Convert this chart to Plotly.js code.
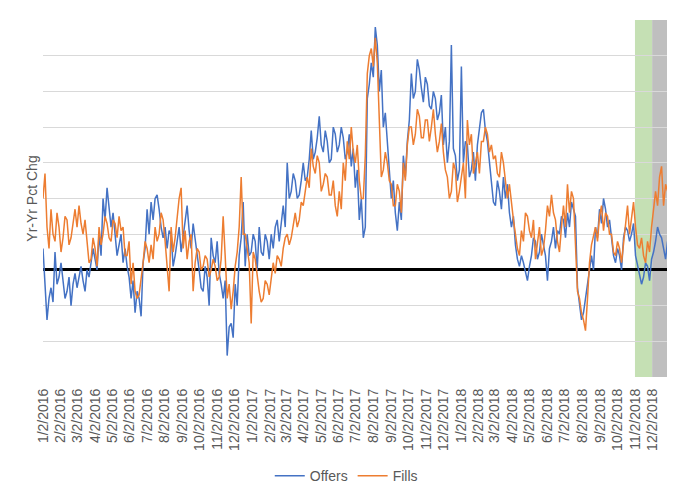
<!DOCTYPE html>
<html>
<head>
<meta charset="utf-8">
<script src="https://cdn.plot.ly/plotly-3.0.1.min.js"></script>
<style>html,body{margin:0;padding:0;background:#fff;}#chart{width:680px;height:502px;}</style>
</head>
<body>
<div id="chart"></div>
<script>
// Half-weekly readings (percent, yr-yr change), starting 2016-01-02, every 3.5 days
const startDate = "2016-01-02";
const stepHours = 84;
const offers = [
  6, -3, -14, -8, -5, -9, 5, -4, -2, 2, -4, -8, -6, -2, -10, -4, -1, -5, -2, 1,
  -3, -6, 0, -2, 2, 6, 3, 0, 10, 4, 20, 14, 23, 17, 12, 16, 10, 4, 7, 10,
  2, 6, 1, -2, -8, -3, -12, -6, -8, -13, 2, 6, 17, 10, 19, 14, 20, 21, 17, 12,
  9, 12, 6, 11, 10, 1, 4, 8, 12, 5, 9, 14, 18, 11, 6, 13, 9, 4, 0, -5,
  -6, 1, -2, -10, 9, 4, 2, 8, -1, -4, -8, -3, -24, -16, -15, -19, -4, -10, 4, 9,
  19, 1, 10, 4, 5, 10, 8, 0, 12, 5, 4, 10, 8, 3, 10, 6, 12, 14, 8, 13,
  18, 12, 30, 20, 22, 27, 25, 20, 21, 25, 30, 25, 26, 31, 39, 31, 33, 37, 43, 35,
  33, 39, 36, 30, 31, 40, 38, 33, 35, 40, 37, 31, 33, 38, 29, 34, 23, 28, 14, 20,
  9, 12, 48, 52, 58, 54, 68, 63, 50, 56, 40, 44, 35, 29, 20, 25, 16, 11, 19, 14,
  32, 26, 36, 42, 55, 48, 50, 59, 56, 51, 47, 54, 52, 46, 45, 50, 48, 42, 44, 49,
  35, 40, 30, 36, 63, 34, 32, 25, 28, 57, 30, 36, 35, 26, 28, 33, 25, 35, 40, 44,
  45, 39, 36, 30, 24, 19, 18, 25, 22, 17, 26, 20, 24, 16, 12, 15, 7, 3, 1, 4,
  2, -1, -3, 1, 4, 9, 8, 3, 5, 10, 7, 4, -3, 6, 8, 12, 6, 11, 10, 15,
  14, 9, 16, 12, 19, 17, 15, -5, -10, -14, -12, -8, -3, 1, 4, 0, 12, 9, 17, 13,
  20, 17, 12, 14, 8, 4, 2, 6, 4, 0, 9, 12, 11, 8, 10, 13, 4, 1, -1, -4,
  -2, 2, 1, -3, 3, 5, 8, 12, 10, 9, 6, 3, 8
];
const fills = [
  20, 27, 12, 6, 17, 10, 8, 16, 12, 5, 9, 15, 14, 7, 9, 13, 17, 12, 18, 13,
  10, 14, 8, 2, 3, 9, 6, 1, 12, 7, 10, 15, 13, 9, 8, 14, 13, 9, 15, 11,
  12, 4, 4, 8, -4, 2, -6, -8, -7, -3, 2, 8, 6, 2, 7, 3, 12, 8, 10, 16,
  14, 8, 2, -6, 12, 5, 9, 14, 20, 23, 6, 11, 3, 8, 10, -6, 2, 6, 5, 0,
  1, 4, 3, -2, 0, 3, 1, -3, -2, 3, 15, 4, -8, -4, -11, -6, 1, 5, 12, 26,
  10, 10, 6, 2, -15, 5, 3, -2, -6, -9, -8, -3, -4, -7, -2, 2, -1, 4, 3, 1,
  6, 9, 10, 7, 9, 13, 16, 12, 14, 19, 18, 22, 26, 23, 34, 29, 27, 32, 30, 22,
  24, 27, 26, 21, 21, 25, 18, 15, 22, 17, 30, 25, 36, 31, 40, 33, 30, 35, 25, 20,
  20, 32, 55, 60, 62, 57, 65, 58, 40, 26, 28, 33, 30, 25, 24, 18, 18, 24, 22, 16,
  30, 25, 35, 40, 40, 35, 38, 45, 43, 37, 37, 42, 42, 36, 40, 45, 38, 33, 36, 41,
  33, 28, 26, 20, 22, 30, 28, 19, 22, 26, 30, 20, 42, 35, 38, 27, 30, 33, 27, 36,
  36, 40, 38, 33, 35, 31, 32, 27, 26, 33, 30, 25, 20, 24, 18, 14, 10, 6, 4, 11,
  8, 16, 15, 11, 9, 14, 3, 8, 12, 4, 6, 11, 18, 15, 21, 16, 14, 8, 5, 12,
  18, 12, 24, 16, 22, 20, 8, -6, -8, -12, -14, -17, -8, 2, 7, 10, 12, 8, 15, 18,
  11, 16, 15, 10, 10, 5, 4, 8, 6, 2, 8, 14, 18, 10, 14, 19, 12, 7, 6, 9,
  4, 2, 8, 5, 12, 18, 22, 18, 26, 29, 18, 24, 22
];
const tickDates = [
  "2016-01-02","2016-02-02","2016-03-02","2016-04-02","2016-05-02","2016-06-02",
  "2016-07-02","2016-08-02","2016-09-02","2016-10-02","2016-11-02","2016-12-02",
  "2017-01-02","2017-02-02","2017-03-02","2017-04-02","2017-05-02","2017-06-02",
  "2017-07-02","2017-08-02","2017-09-02","2017-10-02","2017-11-02","2017-12-02",
  "2018-01-02","2018-02-02","2018-03-02","2018-04-02","2018-05-02","2018-06-02",
  "2018-07-02","2018-08-02","2018-09-02","2018-10-02","2018-11-02","2018-12-02"
];
const tickLabels = tickDates.map(d => {
  const p = d.split("-");
  return parseInt(p[1],10) + "/" + parseInt(p[2],10) + "/" + p[0];
});
const greenBand = ["2018-11-02", "2018-12-02"];
const grayBand = ["2018-12-02", "2018-12-28"];

const t0 = Date.parse(startDate + "T00:00:00Z");
const dates = offers.map((_, i) => {
  const d = new Date(t0 + i * stepHours * 3600 * 1000);
  return d.toISOString().slice(0, 16).replace("T", " ");
});

const font = "Liberation Sans, Arial, sans-serif";
const traces = [
  {x: dates, y: offers, name: "Offers", type: "scatter", mode: "lines",
   line: {color: "#4472C4", width: 1.5}},
  {x: dates, y: fills, name: "Fills", type: "scatter", mode: "lines",
   line: {color: "#ED7D31", width: 1.5}}
];
const layout = {
  width: 680, height: 502,
  margin: {l: 43, r: 13, t: 20, b: 125, autoexpand: false},
  paper_bgcolor: "#fff", plot_bgcolor: "#fff",
  font: {family: font, color: "#595959", size: 14},
  showlegend: true,
  legend: {orientation: "h", x: 0.486, xanchor: "center", y: -0.233, yanchor: "top",
           font: {size: 14, color: "#595959"}},
  xaxis: {type: "date", range: ["2016-01-02", grayBand[1]], automargin: false,
          tickvals: tickDates, ticktext: tickLabels, tickangle: -90,
          showgrid: false, zeroline: false, showline: false,
          ticks: "outside", ticklen: 5, tickcolor: "rgba(0,0,0,0)",
          tickfont: {size: 14, color: "#595959"}},
  yaxis: {range: [-30, 70], dtick: 10, showticklabels: false, ticks: "", automargin: false,
          showgrid: true, gridcolor: "#D9D9D9", gridwidth: 1,
          zeroline: true, zerolinecolor: "#000", zerolinewidth: 3,
          title: {text: "Yr-Yr Pct Chg", font: {size: 14, color: "#595959"}, standoff: 1}},
  shapes: [
    {type: "rect", xref: "x", yref: "paper", x0: greenBand[0], x1: greenBand[1], y0: 0, y1: 1,
     fillcolor: "#C5E0B4", line: {width: 0}, layer: "below"},
    {type: "rect", xref: "x", yref: "paper", x0: grayBand[0], x1: grayBand[1], y0: 0, y1: 1,
     fillcolor: "#BFBFBF", line: {width: 0}, layer: "below"}
  ]
};
Plotly.newPlot("chart", traces, layout, {displayModeBar: false, staticPlot: true});
</script>
</body>
</html>
